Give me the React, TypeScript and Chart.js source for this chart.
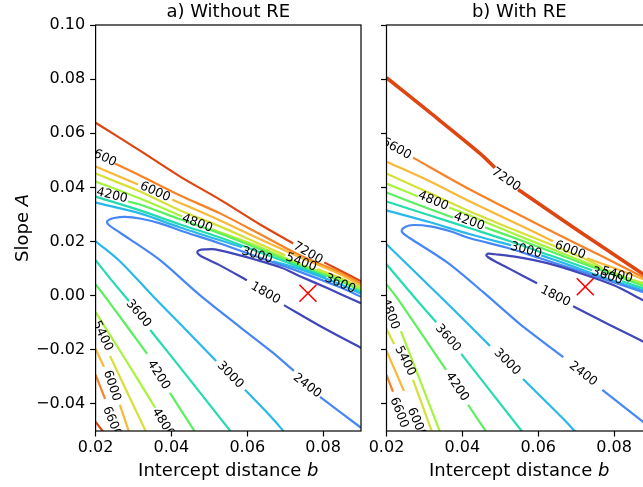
import React, { useEffect, useRef } from 'react';
import { Chart, registerables } from 'chart.js';

Chart.register(...registerables);

type Pt = [number, number];          // [intercept distance b, slope A]
type Line = Pt[];                    // one unbroken piece of a contour
type LabelPos = [number, number, number]; // [level, b, A]

const FONT = '"DejaVu Sans", "Liberation Sans", sans-serif';

// ---------- axes ----------
const bRange: Pt = [0.02, 0.09];
const aRange: Pt = [-0.05, 0.1];
const bTicks = [0.02, 0.04, 0.06, 0.08];
const aTicks = [-0.04, -0.02, 0.0, 0.02, 0.04, 0.06, 0.08, 0.1];

// ---------- contour levels ----------
const levels = [1800, 2400, 3000, 3600, 4200, 4800, 5400, 6000, 6600, 7200];
const levelColors = [
  '#4146b8', '#4687f5', '#28b9ea', '#25dcb0', '#5cf060',
  '#a6f43c', '#d6e038', '#f8b838', '#f88228', '#de4510',
];

// ---------- a) without RE ----------
const woRE1800: Line[] = [
  [[0.09, -0.0028], [0.0811, 0.0028], [0.0739, 0.0072], [0.0687, 0.0105], [0.0581, 0.0149], [0.0515, 0.0171], [0.0489, 0.0171], [0.0473, 0.0168], [0.0468, 0.016], [0.0473, 0.0151], [0.0489, 0.0138], [0.0528, 0.0112], [0.0599, 0.0057]],
  [[0.0697, -0.0035], [0.0792, -0.0112], [0.09, -0.0193]],
];
const woRE2400: Line[] = [
  [[0.09, -0.0004], [0.0845, 0.0031], [0.0739, 0.0088], [0.0634, 0.014], [0.0528, 0.0193], [0.0423, 0.0241], [0.037, 0.0267], [0.0317, 0.0285], [0.0278, 0.0291], [0.0249, 0.0287], [0.0235, 0.028], [0.023, 0.0271], [0.0235, 0.0261], [0.0251, 0.0245], [0.0291, 0.0208], [0.037, 0.0131], [0.0475, 0.0002], [0.0581, -0.0116], [0.0665, -0.0208], [0.0723, -0.0278]],
  [[0.0792, -0.0374], [0.09, -0.0488]],
];
const woRE3000: Line[] = [
  [[0.02, 0.0344], [0.0317, 0.0304], [0.0423, 0.0252], [0.0586, 0.0179]],
  [[0.0668, 0.0127], [0.0739, 0.0098], [0.0845, 0.0042], [0.09, 0.0007]],
  [[0.02, 0.0201], [0.0264, 0.0127], [0.0354, -0.0006], [0.0436, -0.0123], [0.0518, -0.0241]],
  [[0.0594, -0.0348], [0.0665, -0.0451], [0.0697, -0.0503]],
];
const woRE3600: Line[] = [
  [[0.02, 0.0366], [0.0317, 0.0315], [0.0423, 0.0263], [0.0528, 0.0215], [0.0634, 0.016], [0.0739, 0.0105], [0.0808, 0.0068]],
  [[0.0882, 0.0024], [0.09, 0.0013]],
  [[0.02, 0.0131], [0.0238, 0.0064], [0.0288, -0.002]],
  [[0.0344, -0.0127], [0.0449, -0.0311], [0.0557, -0.0503]],
];
const woRE4200: Line[] = [
  [[0.0285, 0.0348], [0.0317, 0.0337], [0.0423, 0.0282], [0.0528, 0.023], [0.0634, 0.0171], [0.0739, 0.011], [0.0845, 0.0054], [0.09, 0.0018]],
  [[0.02, 0.0042], [0.023, -0.0013], [0.0336, -0.0215]],
  [[0.0396, -0.0359], [0.0462, -0.0503]],
];
const woRE4800: Line[] = [
  [[0.02, 0.0422], [0.0317, 0.0359], [0.0428, 0.0293]],
  [[0.0507, 0.0245], [0.0634, 0.0179], [0.0739, 0.0116], [0.0845, 0.006], [0.09, 0.0024]],
  [[0.02, -0.0061], [0.0278, -0.0234], [0.0357, -0.0414]],
];
const woRE5400: Line[] = [
  [[0.02, 0.0451], [0.0317, 0.0385], [0.0423, 0.0315], [0.0528, 0.0256], [0.0634, 0.019], [0.07, 0.0149]],
  [[0.0784, 0.0098], [0.0845, 0.0066], [0.09, 0.0029]],
  [[0.0238, -0.0223], [0.0333, -0.0503]],
];
const woRE6000: Line[] = [
  [[0.02, 0.0477], [0.0312, 0.0411]],
  [[0.0402, 0.0355], [0.0528, 0.0278], [0.0634, 0.0208], [0.0739, 0.0142], [0.0845, 0.0079], [0.09, 0.0037]],
  [[0.02, -0.0197], [0.0222, -0.0263]],
  [[0.0264, -0.0403], [0.0288, -0.0503]],
];
const woRE6600: Line[] = [
  [[0.0251, 0.0488], [0.0317, 0.0444], [0.0423, 0.037], [0.0528, 0.0304], [0.0634, 0.0227], [0.0739, 0.0149], [0.0845, 0.0085], [0.09, 0.0044]],
  [[0.02, -0.0293], [0.0225, -0.0381]],
];
const woRE7200: Line[] = [
  [[0.02, 0.0639], [0.0317, 0.0536], [0.0423, 0.044], [0.0528, 0.0355], [0.0634, 0.0263], [0.0721, 0.0193]],
  [[0.0803, 0.0123], [0.09, 0.0053]],
  [[0.02, -0.0466], [0.022, -0.0503]],
];
const woRELabels: LabelPos[] = [
  [7200, 0.076, 0.0157],
  [6600, 0.0215, 0.0514],
  [6600, 0.0243, -0.0466],
  [6000, 0.0357, 0.0383],
  [6000, 0.0243, -0.0333],
  [5400, 0.0742, 0.0123],
  [5400, 0.0218, -0.0149],
  [4800, 0.0468, 0.0267],
  [4800, 0.0378, -0.047],
  [4200, 0.0243, 0.037],
  [4200, 0.0366, -0.0293],
  [3600, 0.0845, 0.0044],
  [3600, 0.0313, -0.0066],
  [3000, 0.0626, 0.0149],
  [3000, 0.0555, -0.0293],
  [2400, 0.0758, -0.0333],
  [1800, 0.0648, 0.0009],
];
const woREBest: Pt = [0.076, 0.0009];

// ---------- b) with RE ----------
const wRE1800: Line[] = [
  [[0.09, -0.0033], [0.0877, -0.0017], [0.0798, 0.0039], [0.0711, 0.0083], [0.0624, 0.012], [0.0534, 0.0145], [0.0486, 0.0153], [0.0468, 0.0155], [0.0463, 0.0149], [0.0468, 0.0142], [0.0486, 0.0127], [0.0526, 0.0098], [0.0597, 0.0046]],
  [[0.0692, -0.0039], [0.079, -0.0109], [0.09, -0.0186]],
];
const wRE2400: Line[] = [
  [[0.09, 0.0004], [0.0877, 0.0013], [0.079, 0.0053], [0.0711, 0.009], [0.0605, 0.0138], [0.0518, 0.0177], [0.042, 0.0212], [0.0368, 0.0238], [0.0315, 0.0256], [0.027, 0.0261], [0.0249, 0.0254], [0.024, 0.0241], [0.0244, 0.023], [0.0262, 0.0212], [0.036, 0.0123], [0.0455, 0.0013], [0.0552, -0.0105], [0.0666, -0.0227]],
  [[0.0769, -0.0348], [0.09, -0.0492]],
];
const wRE3000: Line[] = [
  [[0.02, 0.0315], [0.0315, 0.0271], [0.042, 0.0227], [0.0529, 0.0186]],
  [[0.0608, 0.0149], [0.0684, 0.0112], [0.0763, 0.0072], [0.09, 0.0009]],
  [[0.02, 0.019], [0.0349, -0.0013], [0.0473, -0.0186]],
  [[0.056, -0.0308], [0.0666, -0.0455], [0.0698, -0.0503]],
];
const wRE3600: Line[] = [
  [[0.02, 0.0348], [0.0315, 0.0296], [0.042, 0.0249], [0.0526, 0.0201], [0.0631, 0.0149], [0.0742, 0.0094]],
  [[0.0821, 0.0053], [0.09, 0.0017]],
  [[0.02, 0.0116], [0.0278, -0.0013], [0.0331, -0.0098]],
  [[0.0397, -0.0215], [0.0558, -0.0503]],
];
const wRE4200: Line[] = [
  [[0.02, 0.0381], [0.0315, 0.0319], [0.0375, 0.0289]],
  [[0.046, 0.0252], [0.0526, 0.0219], [0.0631, 0.0164], [0.0737, 0.0109], [0.0816, 0.0068], [0.09, 0.0024]],
  [[0.02, 0.0042], [0.023, -0.0013], [0.0357, -0.0274]],
  [[0.0415, -0.0403], [0.0463, -0.0503]],
];
const wRE4800: Line[] = [
  [[0.02, 0.0414], [0.0283, 0.0366]],
  [[0.0365, 0.0326], [0.042, 0.0296], [0.0526, 0.0234], [0.0631, 0.0175], [0.0737, 0.0116], [0.0816, 0.0076], [0.09, 0.0031]],
  [[0.0238, -0.0131], [0.0341, -0.0503]],
];
const wRE5400: Line[] = [
  [[0.02, 0.0451], [0.0315, 0.0378], [0.042, 0.0311], [0.0526, 0.0249], [0.0631, 0.019], [0.0737, 0.0127], [0.0766, 0.0105]],
  [[0.085, 0.0057], [0.09, 0.0039]],
  [[0.02, -0.0123], [0.022, -0.0179]],
  [[0.027, -0.0311], [0.032, -0.0503]],
];
const wRE6000: Line[] = [
  [[0.02, 0.0495], [0.0315, 0.0422], [0.042, 0.0348], [0.0552, 0.026], [0.0639, 0.0201]],
  [[0.0729, 0.0138], [0.0816, 0.0094], [0.0877, 0.0061], [0.09, 0.0044]],
  [[0.02, -0.0204], [0.0246, -0.0352]],
];
const wRE6600: Line[] = [
  [[0.027, 0.051], [0.042, 0.0392], [0.0631, 0.0241], [0.0763, 0.0149], [0.0877, 0.0068], [0.09, 0.0052]],
  [[0.02, -0.0293], [0.0217, -0.0355]],
];
const wRE7200: Line[] = [
  [[0.02, 0.0805], [0.0315, 0.0676], [0.0447, 0.0525], [0.0486, 0.0473]],
  [[0.0547, 0.0392], [0.0666, 0.0278], [0.0763, 0.0186], [0.0877, 0.0079], [0.09, 0.0057]],
];
const wRELabels: LabelPos[] = [
  [7200, 0.0515, 0.0429],
  [6600, 0.0226, 0.0543],
  [6600, 0.0233, -0.0432],
  [6000, 0.0684, 0.0168],
  [6000, 0.028, -0.047],
  [5400, 0.0808, 0.0076],
  [5400, 0.0249, -0.0241],
  [4800, 0.0323, 0.035],
  [4800, 0.0209, -0.0068],
  [4200, 0.0418, 0.0274],
  [4200, 0.0386, -0.0337],
  [3600, 0.0782, 0.0072],
  [3600, 0.0362, -0.0157],
  [3000, 0.0568, 0.0168],
  [3000, 0.0518, -0.0245],
  [2400, 0.0718, -0.0289],
  [1800, 0.0645, -0.0002],
];
const wREBest: Pt = [0.0724, 0.0033];

// ---------- panel setup ----------
interface Panel {
  title: string;
  contours: Line[][];
  labels: LabelPos[];
  best: Pt;
  left: number;
  width: number;
  axisLeft: number;
  padRight: number;
  yTickLabels: boolean;
  yTitle: boolean;
  topLineWidth: number;
}

const panelA: Panel = {
  title: 'a) Without RE',
  contours: [woRE1800, woRE2400, woRE3000, woRE3600, woRE4200, woRE4800, woRE5400, woRE6000, woRE6600, woRE7200],
  labels: woRELabels,
  best: woREBest,
  left: 0,
  width: 380,
  axisLeft: 95.6,
  padRight: 19,
  yTickLabels: true,
  yTitle: true,
  topLineWidth: 2.2,
};

const panelB: Panel = {
  title: 'b) With RE',
  contours: [wRE1800, wRE2400, wRE3000, wRE3600, wRE4200, wRE4800, wRE5400, wRE6000, wRE6600, wRE7200],
  labels: wRELabels,
  best: wREBest,
  left: 300,
  width: 380,
  axisLeft: 86.5,
  padRight: 28,
  yTickLabels: false,
  yTitle: false,
  topLineWidth: 3.6,
};

function tickText(v: number): string {
  const s = Math.abs(v).toFixed(2);
  return v < -1e-9 ? '\u2212' + s : s;
}

function distToChord(px: number, py: number, a: number[], b: number[]): number {
  const dx = b[0] - a[0];
  const dy = b[1] - a[1];
  const len2 = dx * dx + dy * dy || 1;
  let t = ((px - a[0]) * dx + (py - a[1]) * dy) / len2;
  t = Math.max(0, Math.min(1, t));
  const qx = a[0] + t * dx - px;
  const qy = a[1] + t * dy - py;
  return Math.sqrt(qx * qx + qy * qy);
}

function decorPlugin(p: Panel) {
  return {
    id: 'panelDecor',
    afterDatasetsDraw(chart: any) {
      const { ctx, chartArea: ca } = chart;
      const xs = chart.scales.x;
      const ys = chart.scales.y;

      // inline contour labels, rotated along their line and clipped to the axes
      ctx.save();
      ctx.beginPath();
      ctx.rect(ca.left, ca.top, ca.right - ca.left, ca.bottom - ca.top);
      ctx.clip();
      ctx.font = `12.5px ${FONT}`;
      ctx.fillStyle = '#000';
      ctx.textAlign = 'center';
      ctx.textBaseline = 'middle';
      for (const [level, b, a] of p.labels) {
        const li = levels.indexOf(level);
        const px = xs.getPixelForValue(b);
        const py = ys.getPixelForValue(a);
        let bestD = Infinity;
        let ang = 0;
        for (const piece of p.contours[li]) {
          const pts = piece.map(([pb, pa]) => [xs.getPixelForValue(pb), ys.getPixelForValue(pa)]);
          for (let i = 0; i < pts.length - 1; i++) {
            const d = distToChord(px, py, pts[i], pts[i + 1]);
            if (d < bestD) {
              bestD = d;
              ang = Math.atan2(pts[i + 1][1] - pts[i][1], pts[i + 1][0] - pts[i][0]);
            }
          }
        }
        if (ang > Math.PI / 2) ang -= Math.PI;
        if (ang < -Math.PI / 2) ang += Math.PI;
        ctx.save();
        ctx.translate(px, py);
        ctx.rotate(ang);
        ctx.fillText(String(level), 0, 0);
        ctx.restore();
      }
      ctx.restore();

      // axes frame
      ctx.save();
      ctx.strokeStyle = '#000';
      ctx.lineWidth = 1.2;
      ctx.strokeRect(ca.left, ca.top, ca.right - ca.left, ca.bottom - ca.top);
      ctx.restore();
    },
    afterDraw(chart: any) {
      const { ctx, chartArea: ca } = chart;
      const cx = (ca.left + ca.right) / 2;
      ctx.save();
      ctx.fillStyle = '#000';
      ctx.textBaseline = 'alphabetic';

      ctx.font = `18px ${FONT}`;
      ctx.textAlign = 'center';
      ctx.fillText(p.title, cx, 17);

      const base = 'Intercept distance ';
      ctx.font = `18px ${FONT}`;
      const w1 = ctx.measureText(base).width;
      ctx.font = `italic 18px ${FONT}`;
      const w2 = ctx.measureText('b').width;
      const x0 = cx - (w1 + w2) / 2;
      ctx.textAlign = 'left';
      ctx.font = `18px ${FONT}`;
      ctx.fillText(base, x0, 476);
      ctx.font = `italic 18px ${FONT}`;
      ctx.fillText('b', x0 + w1, 476);

      if (p.yTitle) {
        const yb = 'Slope ';
        ctx.font = `18px ${FONT}`;
        const v1 = ctx.measureText(yb).width;
        ctx.font = `italic 18px ${FONT}`;
        const v2 = ctx.measureText('A').width;
        ctx.translate(28, (ca.top + ca.bottom) / 2);
        ctx.rotate(-Math.PI / 2);
        const s0 = -(v1 + v2) / 2;
        ctx.font = `18px ${FONT}`;
        ctx.fillText(yb, s0, 0);
        ctx.font = `italic 18px ${FONT}`;
        ctx.fillText('A', s0 + v1, 0);
      }
      ctx.restore();
    },
  };
}

function makeConfig(p: Panel): any {
  const datasets: any[] = [
    {
      data: [{ x: p.best[0], y: p.best[1] }],
      pointStyle: 'crossRot',
      pointRadius: 12,
      borderColor: '#ff0000',
      backgroundColor: '#ff0000',
      borderWidth: 1.6,
      showLine: false,
      order: 0,
      clip: 0,
    },
  ];
  p.contours.forEach((pieces, li) => {
    pieces.forEach((piece) => {
      datasets.push({
        data: piece.map(([x, y]) => ({ x, y })),
        showLine: true,
        borderColor: levelColors[li],
        backgroundColor: levelColors[li],
        borderWidth: li === levels.length - 1 ? p.topLineWidth : 2.2,
        pointRadius: 0,
        tension: 0.3,
        fill: false,
        order: 1,
        clip: 0,
        borderJoinStyle: 'round',
      });
    });
  });

  const tickGrid = {
    display: true,
    drawOnChartArea: false,
    drawTicks: true,
    tickLength: 5.5,
    tickWidth: 1.2,
    tickColor: '#000',
    color: '#000',
  };

  return {
    type: 'scatter',
    data: { datasets },
    options: {
      responsive: false,
      maintainAspectRatio: false,
      animation: false,
      events: [],
      layout: { autoPadding: false, padding: { top: 25, right: p.padRight, bottom: 0, left: 0 } },
      plugins: { legend: { display: false }, tooltip: { enabled: false }, title: { display: false } },
      scales: {
        x: {
          type: 'linear',
          min: bRange[0],
          max: bRange[1],
          afterBuildTicks: (s: any) => {
            s.ticks = bTicks.map((v) => ({ value: v }));
          },
          afterFit: (s: any) => {
            s.height = 56;
          },
          ticks: {
            callback: (v: any) => tickText(Number(v)),
            font: { family: FONT, size: 16 },
            color: '#000',
            padding: 2,
            maxRotation: 0,
            autoSkip: false,
          },
          grid: tickGrid,
          border: { display: false },
        },
        y: {
          type: 'linear',
          min: aRange[0],
          max: aRange[1],
          afterBuildTicks: (s: any) => {
            s.ticks = aTicks.map((v) => ({ value: v }));
          },
          afterFit: (s: any) => {
            s.width = p.axisLeft;
          },
          ticks: {
            display: p.yTickLabels,
            callback: (v: any) => tickText(Number(v)),
            font: { family: FONT, size: 16 },
            color: '#000',
            padding: 5,
            autoSkip: false,
          },
          grid: tickGrid,
          border: { display: false },
        },
      },
    },
    plugins: [decorPlugin(p)],
  };
}

export default function App() {
  const leftRef = useRef<HTMLCanvasElement>(null);
  const rightRef = useRef<HTMLCanvasElement>(null);

  useEffect(() => {
    const a = new Chart(leftRef.current as HTMLCanvasElement, makeConfig(panelA));
    const b = new Chart(rightRef.current as HTMLCanvasElement, makeConfig(panelB));
    return () => {
      a.destroy();
      b.destroy();
    };
  }, []);

  return (
    <div
      style={{
        position: 'absolute',
        left: 0,
        top: 0,
        width: 643,
        height: 487,
        overflow: 'hidden',
        background: '#fff',
      }}
    >
      <canvas ref={leftRef} width={panelA.width} height={487} style={{ position: 'absolute', left: panelA.left, top: 0 }} />
      <canvas ref={rightRef} width={panelB.width} height={487} style={{ position: 'absolute', left: panelB.left, top: 0 }} />
    </div>
  );
}
